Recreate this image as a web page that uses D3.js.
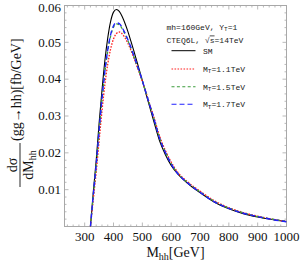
<!DOCTYPE html>
<html><head><meta charset="utf-8">
<script src="https://cdn.jsdelivr.net/npm/d3@7/dist/d3.min.js"></script>
<style>
html,body{margin:0;padding:0;background:#fff;}
svg{display:block;}
</style></head>
<body>
<svg id="chart" width="300" height="263"></svg>
<script>
// ---- data ----
const massGeV = [320,330,340,350,360,370,380,390,400,410,420,430,440,450,460,470,480,490,500,520,540,560,580,600,625,650,675,700,750,800,850,900,950,1000];
const smValues = [0,0.0095,0.0180,0.0280,0.0370,0.0450,0.0512,0.0557,0.0582,0.0589,0.0584,0.0570,0.0551,0.0529,0.0504,0.0478,0.0451,0.0424,0.0396,0.0340,0.0285,0.0232,0.0195,0.0166,0.0141,0.0122,0.0106,0.0092,0.0066,0.0048,0.0035,0.0026,0.0019,0.0013];
const mt11Values = [0,0.0075,0.0148,0.0232,0.0313,0.0385,0.0441,0.0482,0.0509,0.0524,0.0528,0.0523,0.0512,0.0497,0.0479,0.0459,0.0438,0.0416,0.0394,0.0346,0.0297,0.0245,0.0206,0.0175,0.0145,0.0126,0.0110,0.0096,0.0070,0.0051,0.0038,0.0028,0.0020,0.0014];
const mt15Values = [0,0.0085,0.0165,0.0257,0.0343,0.0418,0.0476,0.0517,0.0541,0.0550,0.0548,0.0537,0.0522,0.0504,0.0484,0.0462,0.0440,0.0418,0.0395,0.0344,0.0294,0.0240,0.0202,0.0171,0.0142,0.0124,0.0108,0.0094,0.0068,0.0050,0.0037,0.0027,0.0020,0.0014];
const mt17Values = [0,0.0087,0.0168,0.0260,0.0347,0.0422,0.0480,0.0521,0.0545,0.0553,0.0551,0.0540,0.0525,0.0507,0.0487,0.0465,0.0443,0.0420,0.0396,0.0344,0.0293,0.0239,0.0201,0.0170,0.0141,0.0123,0.0107,0.0093,0.0067,0.0049,0.0036,0.0027,0.0019,0.0013];
const xTickValues = [300,400,500,600,700,800,900,1000];
const yTickValues = [0.01,0.02,0.03,0.04,0.05,0.06];
const yTickLabels = ["0.01","0.02","0.03","0.04","0.05","0.06"];
const seriesNames = ["SM","1.1TeV","1.5TeV","1.7TeV"];
const seriesColors = ["#000000","#ff2020","#3c9c3c","#2020ff"];
const seriesDash = [null,"1.6,1.4","3,2.4","5,3"];
const seriesWidth = [1.1,1.3,1.3,1.4];

const svg = d3.select("#chart");
const L = 64.5, R = 286.5, T = 5.5, B = 226.5;
const x = d3.scaleLinear().domain([230,1000]).range([L,R]);
const y = d3.scaleLinear().domain([0,0.06]).range([B,T]);

const frameColor = "#a8a8a8";
// frame
svg.append("rect").attr("x",L).attr("y",T).attr("width",R-L).attr("height",B-T)
  .attr("fill","none").attr("stroke",frameColor).attr("stroke-width",1);

// ticks
const tg = svg.append("g").attr("stroke",frameColor).attr("stroke-width",0.8);
const xMinor = d3.range(240,1001,20);
xMinor.forEach(v=>{
  const major = v%100===0;
  const len = major?4:2;
  tg.append("line").attr("x1",x(v)).attr("x2",x(v)).attr("y1",B).attr("y2",B-len);
  tg.append("line").attr("x1",x(v)).attr("x2",x(v)).attr("y1",T).attr("y2",T+len);
});
const yMinor = d3.range(1,31).map(i=>i*0.002);
yMinor.forEach((v,i)=>{
  const major = (i+1)%5===0;
  const len = major?4:2;
  tg.append("line").attr("y1",y(v)).attr("y2",y(v)).attr("x1",L).attr("x2",L+len);
  tg.append("line").attr("y1",y(v)).attr("y2",y(v)).attr("x1",R).attr("x2",R-len);
});

// tick labels
const serif = "'Liberation Serif','Times New Roman',serif";
svg.append("g").selectAll("text").data(xTickValues).join("text")
  .attr("x",d=>x(d)).attr("y",241).attr("text-anchor","middle")
  .attr("font-family",serif).attr("font-size",13).attr("fill","#111").text(d=>d);
svg.append("g").selectAll("text").data(yTickValues).join("text")
  .attr("x",61).attr("y",d=>Math.max(y(d)+4.3,11.8)).attr("text-anchor","end")
  .attr("font-family",serif).attr("font-size",13).attr("fill","#111").text((d,i)=>yTickLabels[i]);

// x label
const xl = svg.append("text").attr("x",(L+R)/2).attr("y",257).attr("text-anchor","middle")
  .attr("font-family",serif).attr("font-size",14).attr("fill","#111");
xl.append("tspan").text("M");
xl.append("tspan").attr("font-size",10).attr("dy",3).text("hh");
xl.append("tspan").attr("dy",-3).text("[GeV]");

// y label (rotated)
const yg = svg.append("g").attr("transform","translate(20,0) rotate(-90)");
yg.append("line").attr("x1",-187).attr("x2",-143).attr("y1",0).attr("y2",0).attr("stroke","#111").attr("stroke-width",0.9);
yg.append("text").attr("x",-165).attr("y",-3.5).attr("text-anchor","middle")
  .attr("font-family",serif).attr("font-size",14).attr("fill","#111").text("dσ");
const den = yg.append("text").attr("x",-165).attr("y",12.5).attr("text-anchor","middle")
  .attr("font-family",serif).attr("font-size",14).attr("fill","#111");
den.append("tspan").text("dM");
den.append("tspan").attr("font-size",10).attr("dy",3).text("hh");
yg.append("text").attr("x",-141).attr("y",1).attr("text-anchor","start")
  .attr("font-family",serif).attr("font-size",14).attr("fill","#111").text("(gg→hh)[fb/GeV]");

// curves
const allSeries = [smValues, mt11Values, mt15Values, mt17Values];
const line = d3.line().x((d,i)=>x(massGeV[i])).y(d=>y(d)).curve(d3.curveMonotoneX);
svg.append("defs").append("clipPath").attr("id","clip").append("rect")
  .attr("x",L).attr("y",T).attr("width",R-L).attr("height",B-T);
const cg = svg.append("g").attr("clip-path","url(#clip)");
allSeries.forEach((vals,k)=>{
  cg.append("path").attr("d",line(vals)).attr("fill","none")
    .attr("stroke",seriesColors[k]).attr("stroke-width",seriesWidth[k])
    .attr("stroke-dasharray",seriesDash[k]);
});

// legend
const mono = "'Liberation Mono','Courier New',monospace";
const lg = svg.append("g").attr("font-family",mono).attr("font-size",8).attr("fill","#222");
const t1 = lg.append("text").attr("x",166.5).attr("y",29.5);
t1.append("tspan").text("mh=160GeV, Y");
t1.append("tspan").attr("font-size",6).attr("dy",1.5).text("T");
t1.append("tspan").attr("dy",-1.5).text("=1");
const t2 = lg.append("text").attr("x",166.5).attr("y",42.5);
t2.append("tspan").text("CTEQ6L, √");
t2.append("tspan").style("text-decoration","overline").text("s");
t2.append("tspan").text("=14TeV");

const legY = [50.7,69,86.7,104.3];
seriesNames.forEach((nm,k)=>{
  lg.append("line").attr("x1",171.5).attr("x2",195.5).attr("y1",legY[k]).attr("y2",legY[k])
    .attr("stroke",seriesColors[k]).attr("stroke-width",k===0?1:1.1).attr("stroke-dasharray",seriesDash[k]);
  const tx = lg.append("text").attr("x",203).attr("y",legY[k]+2.8);
  if(k===0){ tx.text(nm); }
  else {
    tx.append("tspan").text("M");
    tx.append("tspan").attr("font-size",6).attr("dy",1.5).text("T");
    tx.append("tspan").attr("dy",-1.5).text("="+nm);
  }
});
</script>
</body></html>
